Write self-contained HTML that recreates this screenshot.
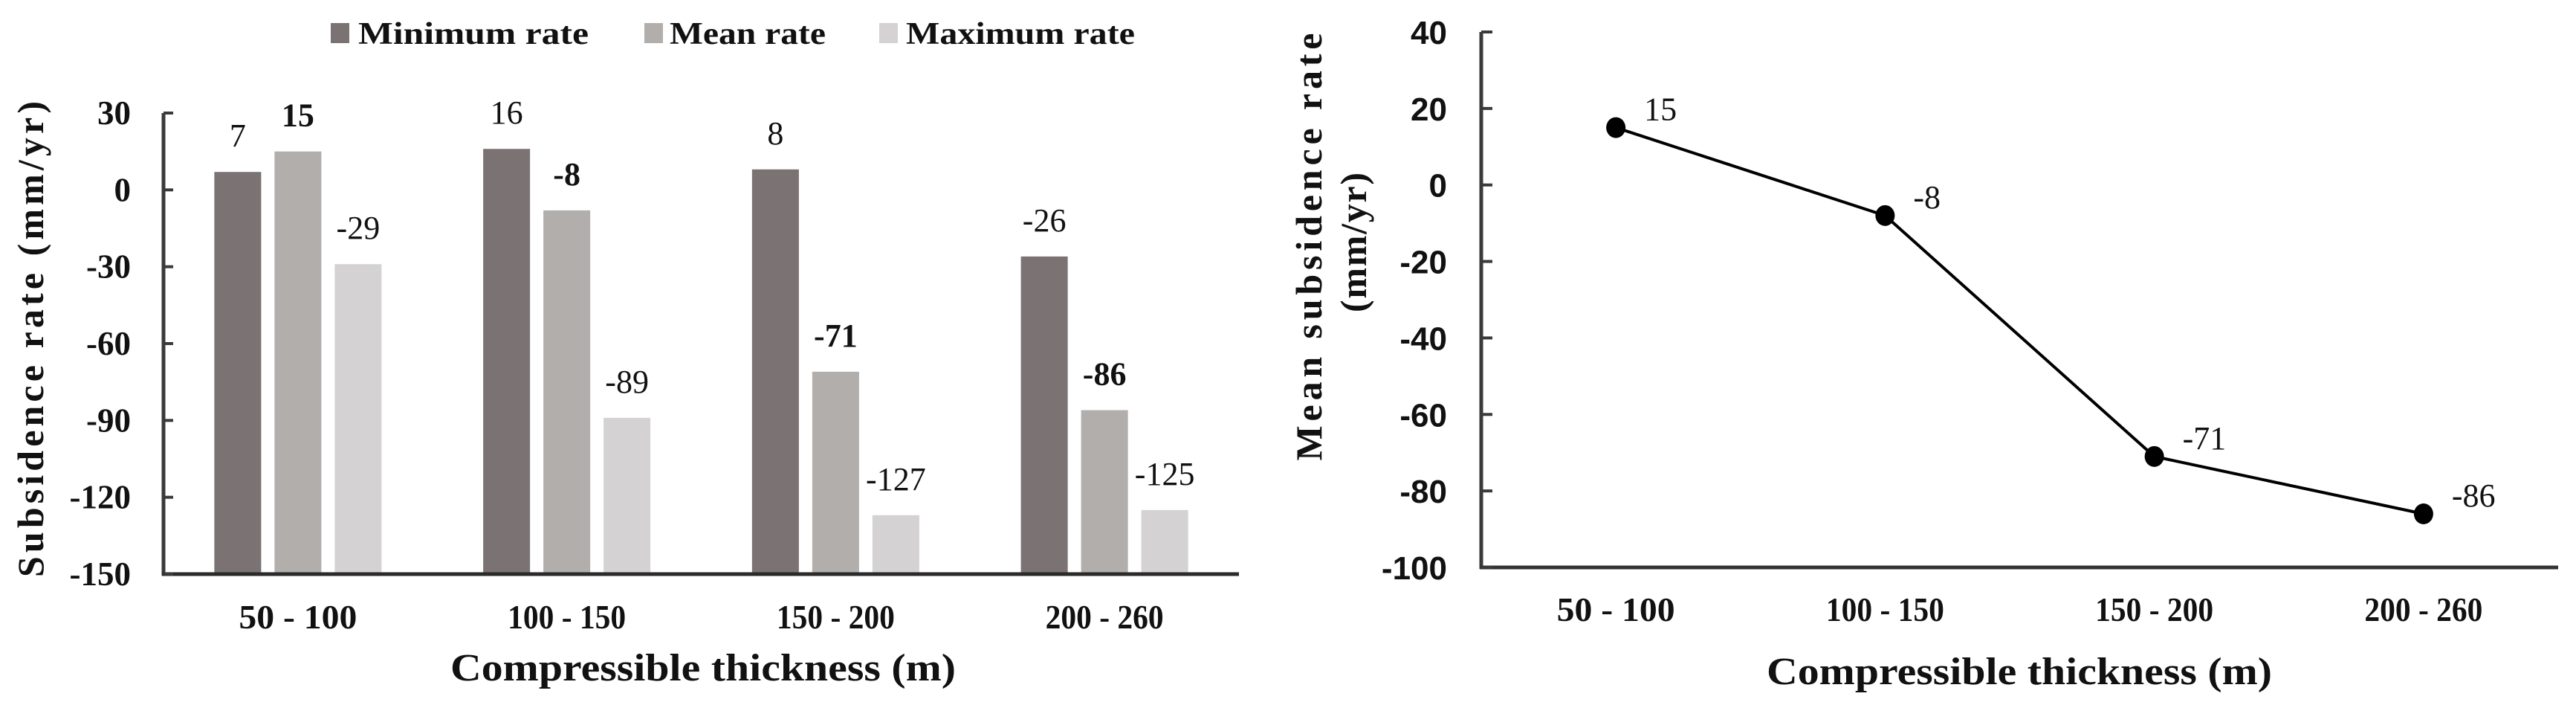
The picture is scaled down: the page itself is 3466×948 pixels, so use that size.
<!DOCTYPE html>
<html><head><meta charset="utf-8"><style>
html,body{margin:0;padding:0;background:#fff;}
svg{display:block;}
.serif{font-family:"Liberation Serif",serif;}
.sans{font-family:"Liberation Sans",sans-serif;}
</style></head><body>
<svg id="fig" width="3466" height="948" viewBox="0 0 3466 948" xmlns="http://www.w3.org/2000/svg">
<g id="left"></g>
<g id="right"></g>
</svg>
<script>
const categories = ["50 - 100","100 - 150","150 - 200","200 - 260"];
const minRate = [7, 16, 8, -26];
const meanRate = [15, -8, -71, -86];
const maxRate = [-29, -89, -127, -125];
const leftTicks = [30, 0, -30, -60, -90, -120, -150];
const rightTicks = [40, 20, 0, -20, -40, -60, -80, -100];
const seriesNames = ["Minimum  rate", "Mean rate", "Maximum rate"];

const NS = "http://www.w3.org/2000/svg";
function mk(parent, tag, attrs, text){
  const e = document.createElementNS(NS, tag);
  for (const k in attrs) e.setAttribute(k, attrs[k]);
  if (text !== undefined) e.textContent = text;
  parent.appendChild(e);
  return e;
}

// ---------- LEFT BAR CHART ----------
const L = document.getElementById('left');
const lx0 = 220, lx1 = 1667, ly0 = 152, ly1 = 772, lmax = 30, lmin = -150;
function lyS(v){ return ly0 + (lmax - v) / (lmax - lmin) * (ly1 - ly0); }
const lcell = (lx1 - lx0) / categories.length;
function lxC(i){ return lx0 + lcell * (i + 0.5); }
const colors = ["#7a7273", "#b2aeac", "#d4d2d2"];
const series = [minRate, meanRate, maxRate];
const barW = 63, pitch = 81;

series.forEach((arr, s) => {
  arr.forEach((v, i) => {
    const cx = lxC(i) + (s - 1) * pitch;
    const y0 = lyS(v), yb = ly1;
    const r = mk(L, 'rect', {x: cx - barW/2, y: Math.min(y0, yb), width: barW, height: Math.abs(yb - y0), fill: colors[s]});
    
    
    const t = mk(L, 'text', {x: cx, y: y0 - 34, 'text-anchor': 'middle', 'font-size': 44, 'font-weight': s === 1 ? 'bold' : 'normal', class: 'serif', fill: '#111'}, String(v));
    
    
  });
});
// axes
let ax = mk(L, 'line', {x1: lx0, y1: ly0, x2: lx0, y2: ly1 + 2, stroke: '#3a3a3a', 'stroke-width': 5});
 
ax = mk(L, 'line', {x1: lx0 - 2, y1: ly1, x2: lx1, y2: ly1, stroke: '#2a2a2a', 'stroke-width': 5});
 
leftTicks.forEach(v => {
  const y = lyS(v);
  const tk = mk(L, 'line', {x1: lx0, y1: y, x2: lx0 + 13, y2: y, stroke: '#3a3a3a', 'stroke-width': 4});
   
  const tl = mk(L, 'text', {x: 176, y: y + 15, 'text-anchor': 'end', 'font-size': 45, 'font-weight': 'bold', class: 'serif', fill: '#111'}, String(v));
   
});
categories.forEach((c, i) => {
  const t = mk(L, 'text', {x: lxC(i), y: 845, 'text-anchor': 'middle', 'font-size': 46, 'font-weight': 'bold', class: 'serif', fill: '#111', textLength: 159, lengthAdjust: 'spacingAndGlyphs'}, c);
   
});
let tt = mk(L, 'text', {x: 946, y: 915, 'text-anchor': 'middle', 'font-size': 52, 'font-weight': 'bold', class: 'serif', fill: '#111', textLength: 680, lengthAdjust: 'spacingAndGlyphs'}, 'Compressible thickness (m)');
 
tt = mk(L, 'text', {x: 0, y: 0, transform: 'translate(58,456) rotate(-90)', 'text-anchor': 'middle', 'font-size': 50, 'font-weight': 'bold', class: 'serif', fill: '#111', textLength: 640, lengthAdjust: 'spacing'}, 'Subsidence rate (mm/yr)');
 
// legend
const legSq = [445, 867, 1183], legTx = [482, 901, 1219], legW = [310, 210, 308];
seriesNames.forEach((n, s) => {
  const g = mk(L, 'g', {});
   
  mk(g, 'rect', {x: legSq[s], y: 31, width: 25, height: 27, fill: colors[s]});
  mk(g, 'text', {x: legTx[s], y: 59, 'font-size': 42, 'font-weight': 'bold', class: 'serif', fill: '#111', textLength: legW[s], lengthAdjust: 'spacingAndGlyphs'}, n);
});

// ---------- RIGHT LINE CHART ----------
const R = document.getElementById('right');
const rx0 = 1993, rx1 = 3442, ry0 = 43, ry1 = 763, rmax = 40, rmin = -100;
function ryS(v){ return ry0 + (rmax - v) / (rmax - rmin) * (ry1 - ry0); }
const rcell = (rx1 - rx0) / categories.length;
function rxC(i){ return rx0 + rcell * (i + 0.5); }
ax = mk(R, 'line', {x1: rx0, y1: ry0, x2: rx0, y2: ry1 + 2, stroke: '#3a3a3a', 'stroke-width': 5});
 
ax = mk(R, 'line', {x1: rx0 - 2, y1: ry1, x2: rx1, y2: ry1, stroke: '#333', 'stroke-width': 5});
 
rightTicks.forEach(v => {
  const y = ryS(v);
  const tk = mk(R, 'line', {x1: rx0, y1: y, x2: rx0 + 15, y2: y, stroke: '#3a3a3a', 'stroke-width': 4});
   
  const tl = mk(R, 'text', {x: 1947, y: y + 16, 'text-anchor': 'end', 'font-size': 44, 'font-weight': 'bold', class: 'sans', fill: '#111'}, String(v));
   
});
const pts = meanRate.map((v, i) => rxC(i) + ',' + ryS(v)).join(' ');
const pl = mk(R, 'polyline', {points: pts, fill: 'none', stroke: '#000', 'stroke-width': 4});
 
meanRate.forEach((v, i) => {
  const c = mk(R, 'ellipse', {cx: rxC(i), cy: ryS(v), rx: 13, ry: 14, fill: '#000'});
   
  const t = mk(R, 'text', {x: rxC(i) + 38, y: ryS(v) - 10, 'font-size': 44, class: 'serif', fill: '#111'}, String(v));
   
});
categories.forEach((c, i) => {
  const t = mk(R, 'text', {x: rxC(i), y: 835, 'text-anchor': 'middle', 'font-size': 46, 'font-weight': 'bold', class: 'serif', fill: '#111', textLength: 159, lengthAdjust: 'spacingAndGlyphs'}, c);
   
});
tt = mk(R, 'text', {x: 2717, y: 920, 'text-anchor': 'middle', 'font-size': 52, 'font-weight': 'bold', class: 'serif', fill: '#111', textLength: 680, lengthAdjust: 'spacingAndGlyphs'}, 'Compressible thickness (m)');
 
tt = mk(R, 'text', {x: 0, y: 0, transform: 'translate(1778,332) rotate(-90)', 'text-anchor': 'middle', 'font-size': 50, 'font-weight': 'bold', class: 'serif', fill: '#111', textLength: 575, lengthAdjust: 'spacing'}, 'Mean subsidence rate');
 
tt = mk(R, 'text', {x: 0, y: 0, transform: 'translate(1838,326) rotate(-90)', 'text-anchor': 'middle', 'font-size': 50, 'font-weight': 'bold', class: 'serif', fill: '#111', textLength: 188, lengthAdjust: 'spacing'}, '(mm/yr)');
 
</script>
</body></html>
